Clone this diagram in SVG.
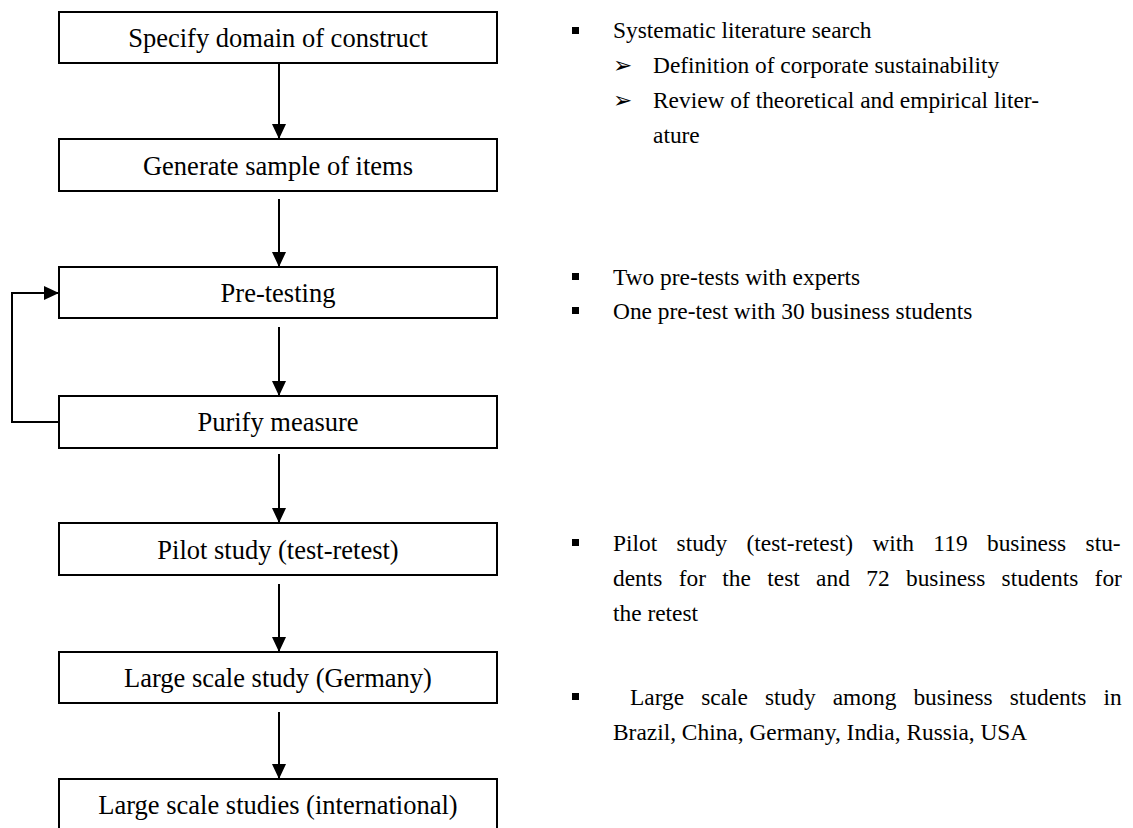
<svg xmlns="http://www.w3.org/2000/svg" width="1133" height="828" viewBox="0 0 1133 828">
  <style>
    .box { fill: #ffffff; stroke: #000000; stroke-width: 2; }
    .lbl { font-family: "Liberation Serif", "Times New Roman", serif; font-size: 26.5px; fill: #000000; text-anchor: middle; }
    .note { font-family: "Liberation Serif", "Times New Roman", serif; font-size: 23.4px; fill: #000000; }
    .edge { fill: none; stroke: #000000; stroke-width: 2; }
    .sq { fill: #000000; }
  </style>
  <defs>
    <marker id="arrow" markerWidth="15" markerHeight="14" refX="15" refY="7" orient="auto" markerUnits="userSpaceOnUse">
      <path d="M0,0 L15,7 L0,14 Z" fill="#000000"/>
    </marker>
  </defs>
  <rect x="0" y="0" width="1133" height="828" fill="#ffffff"/>

  <!-- connectors -->
  <g id="connectors">
    <line class="edge" x1="279" y1="63" x2="279" y2="139" marker-end="url(#arrow)"/>
    <line class="edge" x1="279" y1="199" x2="279" y2="267" marker-end="url(#arrow)"/>
    <line class="edge" x1="279" y1="327" x2="279" y2="396" marker-end="url(#arrow)"/>
    <polyline class="edge" points="59,422 12,422 12,293 59,293" marker-end="url(#arrow)"/>
    <line class="edge" x1="279" y1="454" x2="279" y2="523" marker-end="url(#arrow)"/>
    <line class="edge" x1="279" y1="584" x2="279" y2="652" marker-end="url(#arrow)"/>
    <line class="edge" x1="279" y1="712" x2="279" y2="779" marker-end="url(#arrow)"/>
  </g>

  <!-- process steps -->
  <g id="step-domain">
    <rect class="box" x="59" y="12" width="438" height="51"/>
    <text class="lbl" x="278" y="47">Specify domain of construct</text>
  </g>
  <g id="step-items">
    <rect class="box" x="59" y="139" width="438" height="52"/>
    <text class="lbl" x="278" y="175">Generate sample of items</text>
  </g>
  <g id="step-pretesting">
    <rect class="box" x="59" y="267" width="438" height="51"/>
    <text class="lbl" x="278" y="302">Pre-testing</text>
  </g>
  <g id="step-purify">
    <rect class="box" x="59" y="396" width="438" height="52"/>
    <text class="lbl" x="278" y="431">Purify measure</text>
  </g>
  <g id="step-pilot">
    <rect class="box" x="59" y="523" width="438" height="52"/>
    <text class="lbl" x="278" y="559">Pilot study (test-retest)</text>
  </g>
  <g id="step-germany">
    <rect class="box" x="59" y="652" width="438" height="51"/>
    <text class="lbl" x="278" y="687">Large scale study (Germany)</text>
  </g>
  <g id="step-international">
    <rect class="box" x="59" y="779" width="438" height="52"/>
    <text class="lbl" x="278" y="814">Large scale studies (international)</text>
  </g>

  <!-- annotations -->
  <g id="note-literature">
    <rect class="sq" x="572" y="27" width="7" height="7"/>
    <text class="note" x="613" y="38">Systematic literature search</text>
    <text class="note" x="613" y="73">➢</text>
    <text class="note" x="653" y="73">Definition of corporate sustainability</text>
    <text class="note" x="613" y="108">➢</text>
    <text class="note" x="653" y="108">Review of theoretical and empirical liter-</text>
    <text class="note" x="653" y="143">ature</text>
  </g>
  <g id="note-pretests">
    <rect class="sq" x="572" y="273" width="7" height="7"/>
    <text class="note" x="613" y="285">Two pre-tests with experts</text>
    <rect class="sq" x="572" y="307" width="7" height="7"/>
    <text class="note" x="613" y="319">One pre-test with 30 business students</text>
  </g>
  <g id="note-pilot">
    <rect class="sq" x="572" y="539" width="7" height="7"/>
    <text class="note" x="613" y="551" word-spacing="13.5">Pilot study (test-retest) with 119 business stu-</text>
    <text class="note" x="613" y="586" word-spacing="10.5">dents for the test and 72 business students for</text>
    <text class="note" x="613" y="621">the retest</text>
  </g>
  <g id="note-large">
    <rect class="sq" x="572" y="693" width="7" height="7"/>
    <text class="note" x="630" y="705" word-spacing="11.2">Large scale study among business students in</text>
    <text class="note" x="613" y="740">Brazil, China, Germany, India, Russia, USA</text>
  </g>
</svg>
